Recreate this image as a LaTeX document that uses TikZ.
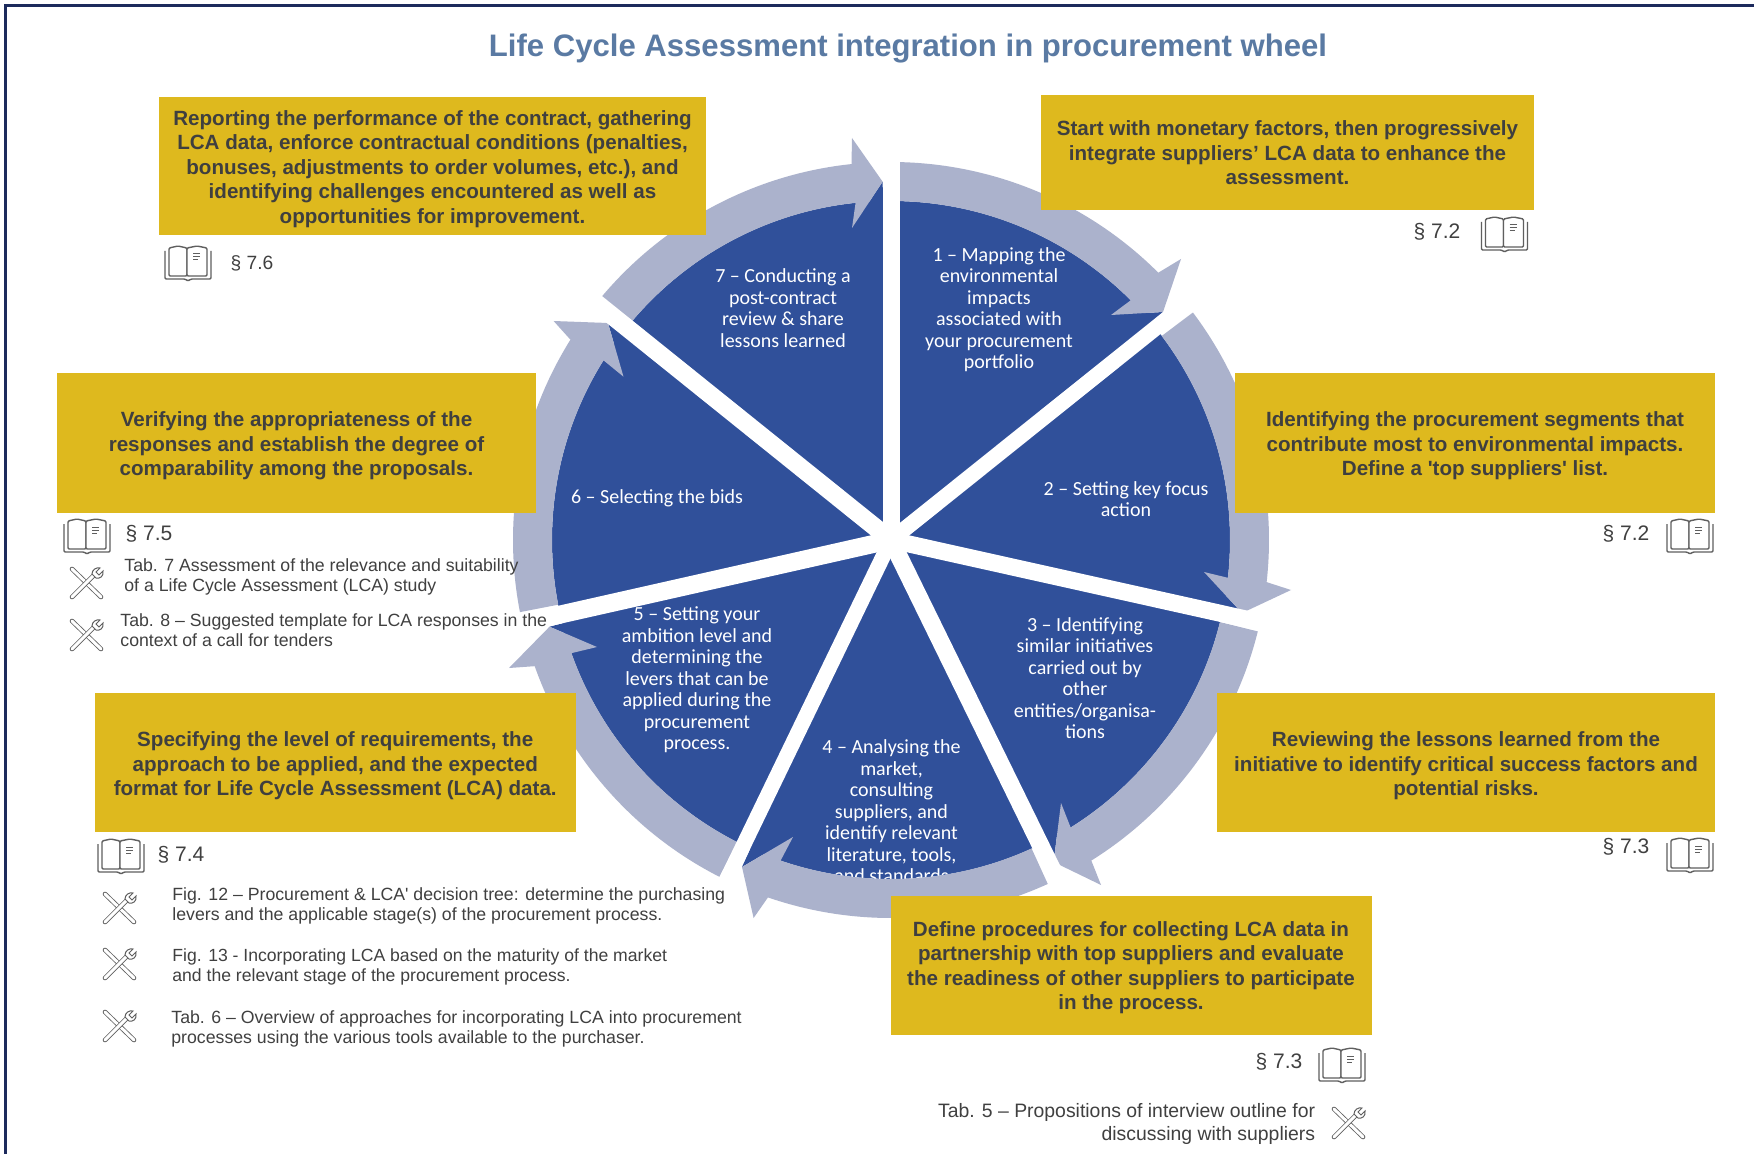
\documentclass[tikz,border=0pt]{standalone}
\usepackage{fontspec}
\setmainfont{Liberation Sans}
\newfontfamily\segfont{Carlito}
\definecolor{wheelblue}{HTML}{30509A}
\definecolor{ringlight}{HTML}{ABB2CC}
\definecolor{boxyellow}{HTML}{DEB91E}
\definecolor{titleblue}{HTML}{5A7AA3}
\definecolor{framenavy}{HTML}{1C2A5C}
\definecolor{boxtextc}{HTML}{3F3F3F}
\definecolor{smalltextc}{HTML}{404040}
\definecolor{iconc}{HTML}{5F5F5F}
\tikzset{
  yellowbox/.style={fill=boxyellow,inner sep=0pt},
  boxlabel/.style={inner sep=0pt,align=center,text=boxtextc,yshift=-1.4pt,
    font=\bfseries\fontsize{10.3pt}{12.25pt}\selectfont},
  segtext/.style={inner sep=0pt,align=center,text=white,
    font=\segfont\fontsize{10pt}{10.75pt}\selectfont},
  smalltext/.style={inner sep=0pt,align=left,anchor=west,text=smalltextc,yshift=-0.8pt,
    font=\fontsize{8.85pt}{10.1pt}\selectfont},
  secref/.style={inner sep=0pt,text=smalltextc,font=\fontsize{10.5pt}{12pt}\selectfont},
  ringarrow/.style={fill=ringlight,draw=none},
  headbase/.style={fill=wheelblue,draw=none},
  spoke/.style={draw=white,line width=8.5pt},
  toolline/.style={draw=iconc,line width=.4pt,double=white,double distance=1.5pt,line cap=round},
  bookicon/.pic={
    \draw[iconc,line width=.7pt,fill=white,rounded corners=.6pt]
      (-23,-12) -- (-23,16) -- (-3,16) -- (0,18) -- (3,16) -- (23,16) -- (23,-12);
    \draw[iconc,line width=.7pt,fill=white,rounded corners=.6pt]
      (-19,-15) -- (-10,-17) -- (-1,-15) -- (-1,13) -- (-10,13) -- (-19,13) -- cycle;
    \draw[iconc,line width=.7pt,fill=white,rounded corners=.6pt]
      (-1,-15) -- (9,-17) -- (19,-15) -- (19,13) -- (-1,13) -- cycle;
    \draw[iconc,line width=.5pt] (5,-9) -- (12,-9) (5,-6) -- (12,-6) (5,-3) -- (10,-3);
  },
  toolicon/.pic={
    \draw[toolline] (-14,-14) -- (15,14);
    \draw[toolline] (-14,14) -- (8,-8);
    \draw[iconc,line width=.5pt,fill=white]
      (6,-9) .. controls (6,-13) and (10,-16) .. (14,-15) -- (10,-11) -- (13,-8) -- (17,-12)
      .. controls (18,-7) and (14,-4) .. (10,-5) -- cycle;
  },
}
\begin{document}
\begin{tikzpicture}[x=0.5pt,y=-0.5pt]
\useasboundingbox (0,0) rectangle (1754,1154);
\fill[white] (0,0) rectangle (1754,1154);
% frame
\draw[framenavy,line width=1.5pt] (5,1154) -- (5,6) -- (1754,6);
% title
\node[inner sep=0pt,text=titleblue,font=\bfseries\fontsize{15.55pt}{17pt}\selectfont] (title) at (908,49)
  {Life Cycle Assessment integration in procurement wheel};
% wheel
\begin{scope}[shift={(891,540)},x=0.5pt,y=0.5pt]
  \fill[wheelblue] (0,0) circle[radius=339];
  \coordinate (hub) at (0,0);
  % blue reaches out to the tip of each arrowhead
  \fill[headbase] (hub) -- (220,225) -- (272,228) -- cycle;
  \fill[headbase] (hub) -- (313,-32) -- (351,-73) -- cycle;
  \fill[headbase] (hub) -- (170,-263) -- (162.6,-322) -- cycle;
  \fill[headbase] (hub) -- (-98,-297) -- (-149,-327) -- cycle;
  \fill[headbase] (hub) -- (-294,-107) -- (-341.5,-86.7) -- cycle;
  \fill[headbase] (hub) -- (-267.5,163.3) -- (-283,217) -- cycle;
  \fill[headbase] (hub) -- (-39,312) -- (-8.4,358.3) -- cycle;
\end{scope}
\node[segtext] (seg1) at (999,309.5) {1 – Mapping the\\environmental\\impacts\\associated with\\your procurement\\portfolio};
\node[segtext] (seg2) at (1126,499) {2 – Setting key focus\\action};
\node[segtext] (seg3) at (1085,678) {3 – Identifying\\similar initiatives\\carried out by\\other\\entities/organisa-\\tions};
\node[segtext] (seg4) at (891.5,811.5) {4 – Analysing the\\market,\\consulting\\suppliers, and\\identify relevant\\literature, tools,\\and standards};
\node[segtext] (seg5) at (697,680) {5 – Setting your\\ambition level and\\determining the\\levers that can be\\applied during the\\procurement\\process.};
\node[segtext] (seg6) at (657,498.5) {6 – Selecting the bids};
\node[segtext] (seg7) at (783,308) {7 – Conducting a\\post-contract\\review \& share\\lessons learned};
\begin{scope}[shift={(891,540)},x=0.5pt,y=0.5pt]
  \fill[ringarrow] (88.6:378) arc[start angle=88.6,end angle=45,radius=378] -- (290,281) -- (272,228) -- (220,225) -- (45:339) arc[start angle=45,end angle=88.6,radius=339] -- cycle;
  \fill[ringarrow] (37:378) arc[start angle=37,end angle=-6.4,radius=378] -- (400,-50) -- (351,-73) -- (313,-32) -- (-6.4:339) arc[start angle=-6.4,end angle=37,radius=339] -- cycle;
  \fill[ringarrow] (-14:378) arc[start angle=-14,end angle=-58,radius=378] -- (210,-345) -- (162.6,-322) -- (170,-263) -- (-58:339) arc[start angle=-58,end angle=-14,radius=339] -- cycle;
  \fill[ringarrow] (-65.5:378) arc[start angle=-65.5,end angle=-109,radius=378] -- (-137.4,-378) -- (-149,-327) -- (-98,-297) -- (-109:339) arc[start angle=-109,end angle=-65.5,radius=339] -- cycle;
  \fill[ringarrow] (-117:378) arc[start angle=-117,end angle=-160.5,radius=378] -- (-382,-128) -- (-341.5,-86.7) -- (-294,-107) -- (-160.5:339) arc[start angle=-160.5,end angle=-117,radius=339] -- cycle;
  \fill[ringarrow] (191:378) arc[start angle=191,end angle=148,radius=378] -- (-337.4,219) -- (-283,217) -- (-267.5,163.3) -- (148:339) arc[start angle=148,end angle=191,radius=339] -- cycle;
  \fill[ringarrow] (140:378) arc[start angle=140,end angle=96,radius=378] -- (-39,402) -- (-8.4,358.3) -- (-39,312) -- (96:339) arc[start angle=96,end angle=140,radius=339] -- cycle;
  % spokes
  \coordinate (s1) at (90:410); \coordinate (s2) at (38.7:400); \coordinate (s3) at (-12.55:400);
  \coordinate (s4) at (-63.9:400); \coordinate (s5) at (-115.8:400); \coordinate (s6) at (192.7:400); \coordinate (s7) at (141.2:400);
  \draw[spoke] (hub) -- (s1);
  \draw[spoke,line width=7.8pt] (hub) -- (s2);
  \draw[spoke] (hub) -- (s3);
  \draw[spoke,line width=8.7pt] (hub) -- (s4);
  \draw[spoke,line width=7.6pt] (hub) -- (s5);
  \draw[spoke,line width=9pt] (hub) -- (s6);
  \draw[spoke,line width=9pt] (hub) -- (s7);
  \fill[white] (hub) circle[radius=10];
\end{scope}
% yellow boxes
\node[yellowbox,minimum width=273.5pt,minimum height=69pt] (boxA) at (432.5,166) {};
\node[yellowbox,minimum width=246.5pt,minimum height=57.5pt] (boxB) at (1287.5,152.5) {};
\node[yellowbox,minimum width=239.5pt,minimum height=69.5pt] (boxC) at (296.5,443) {};
\node[yellowbox,minimum width=240pt,minimum height=69.5pt] (boxD) at (1475,443) {};
\node[yellowbox,minimum width=240.25pt,minimum height=69.5pt] (boxE) at (335.25,762.5) {};
\node[yellowbox,minimum width=249pt,minimum height=69.5pt] (boxF) at (1466,762.5) {};
\node[yellowbox,minimum width=240.5pt,minimum height=69.5pt] (boxG) at (1131,965.5) {};
\node[boxlabel] (labA) at (boxA) {Reporting the performance of the contract, gathering\\LCA data, enforce contractual conditions (penalties,\\bonuses, adjustments to order volumes, etc.), and\\identifying challenges encountered as well as\\opportunities for improvement.};
\node[boxlabel,yshift=1.2pt] (labB) at (boxB) {Start with monetary factors, then progressively\\integrate suppliers’ LCA data to enhance the\\assessment.};
\node[boxlabel] (labC) at (boxC) {Verifying the appropriateness of the\\responses and establish the degree of\\comparability among the proposals.};
\node[boxlabel] (labD) at (boxD) {Identifying the procurement segments that\\contribute most to environmental impacts.\\Define a \textquotesingle top suppliers\textquotesingle{} list.};
\node[boxlabel,yshift=-0.2pt] (labE) at (boxE) {Specifying the level of requirements, the\\approach to be applied, and the expected\\format for Life Cycle Assessment (LCA) data.};
\node[boxlabel,yshift=-0.2pt] (labF) at (boxF) {Reviewing the lessons learned from the\\initiative to identify critical success factors and\\potential risks.};
\node[boxlabel,yshift=0.2pt] (labG) at (boxG) {Define procedures for collecting LCA data in\\partnership with top suppliers and evaluate\\the readiness of other suppliers to participate\\in the process.};
% section refs
\node[secref,font=\fontsize{9.6pt}{12pt}\selectfont] (r76) at (252,263) {§ 7.6};
\node[secref] (r72a) at (1437,232) {§ 7.2};
\node[secref] (r75) at (149,533.6) {§ 7.5};
\node[secref] (r72b) at (1626,533.6) {§ 7.2};
\node[secref] (r73a) at (1626,847) {§ 7.3};
\node[secref] (r74) at (181,855) {§ 7.4};
\node[secref] (r73b) at (1279,1062) {§ 7.3};
% book icons
\pic at (188,263) {bookicon};
\pic at (1504.5,234) {bookicon};
\pic at (87,536) {bookicon};
\pic at (1690,536) {bookicon};
\pic at (1690,855) {bookicon};
\pic at (121,856) {bookicon};
\pic at (1342,1065) {bookicon};
% tool icons
\pic at (86,583) {toolicon};
\pic at (86,635) {toolicon};
\pic at (119,908) {toolicon};
\pic at (119,964) {toolicon};
\pic at (119,1026) {toolicon};
\pic at (1348,1123) {toolicon};
% small texts
\node[smalltext] (t7) at (124,575) {Tab. 7 Assessment of the relevance and suitability\\of a Life Cycle Assessment (LCA) study};
\node[smalltext,yshift=0.8pt] (t8) at (120,630) {Tab. 8 – Suggested template for LCA responses in the\\context of a call for tenders};
\node[smalltext] (f12) at (172,904) {Fig. 12 – Procurement \& LCA\textquotesingle{} decision tree: determine the purchasing\\levers and the applicable stage(s) of the procurement process.};
\node[smalltext,font=\fontsize{8.8pt}{10.1pt}\selectfont] (f13) at (172,965) {Fig. 13 - Incorporating LCA based on the maturity of the market\\and the relevant stage of the procurement process.};
\node[smalltext] (t6) at (171,1027) {Tab. 6 – Overview of approaches for incorporating LCA into procurement\\processes using the various tools available to the purchaser.};
\node[smalltext,anchor=east,align=right,font=\fontsize{9.7pt}{11.7pt}\selectfont] (t5) at (1315.5,1122.5) {Tab. 5 – Propositions of interview outline for\\discussing with suppliers};
\end{tikzpicture}
\end{document}
